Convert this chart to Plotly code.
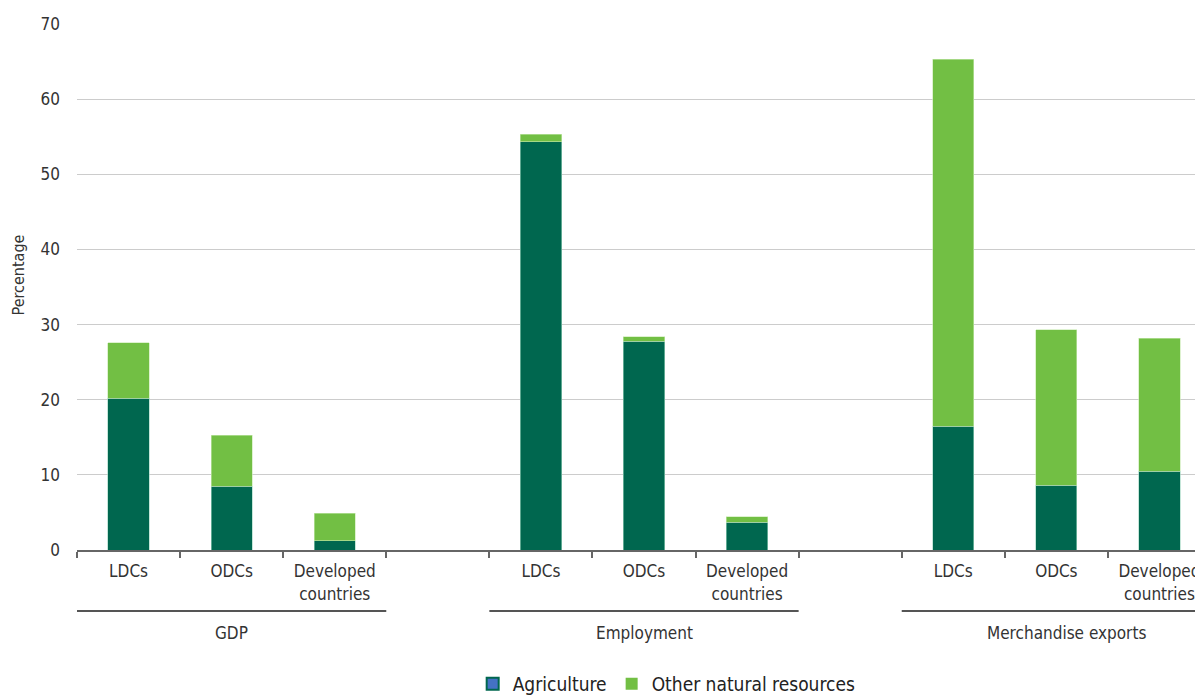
import plotly.graph_objects as go

groups = ["GDP", "Employment", "Merchandise exports"]
country_groups = ["LDCs", "ODCs", "Developed<br>countries"]
# slot positions (one empty slot between groups)
positions = [0, 1, 2, 4, 5, 6, 8, 9, 10]
agriculture = [20.2, 8.5, 1.2, 54.3, 27.8, 3.7, 16.5, 8.6, 10.5]
other_nat = [7.4, 6.8, 3.7, 1.0, 0.6, 0.7, 48.8, 20.7, 17.7]
y_ticks = [0, 10, 20, 30, 40, 50, 60, 70]

DARK = "#00674F"
LIGHT = "#72BF44"
FONT = "DejaVu Sans Condensed, Roboto, sans-serif"

fig = go.Figure()
fig.add_trace(go.Bar(x=positions, y=agriculture, name="Agriculture", width=0.4,
                     marker=dict(color=DARK, line=dict(color="#9fd5c0", width=0.6)),
                     showlegend=False))
fig.add_trace(go.Bar(x=positions, y=other_nat, name="Other natural resources", width=0.4,
                     marker=dict(color=LIGHT, line=dict(color="#c8eab0", width=0.6)),
                     showlegend=False))
# legend entries
fig.add_trace(go.Bar(x=[None], y=[None], name="Agriculture",
                     marker=dict(color="#4472C4", line=dict(color=DARK, width=2))))
fig.add_trace(go.Bar(x=[None], y=[None], name="Other natural resources",
                     marker=dict(color=LIGHT, line=dict(color=LIGHT, width=0))))

tickvals = positions
ticktext = country_groups * 3
boundaries = [p - 0.5 for p in range(12)]

# page body has an 8px margin, so the figure is offset to compensate;
# the right part of the plot runs past the window edge as in the reference
fig.update_layout(
    barmode="stack",
    width=1203, height=695,
    margin=dict(l=69, r=0, t=16, b=152),
    plot_bgcolor="white", paper_bgcolor="white",
    font=dict(family=FONT, size=17, color="#333333"),
    legend=dict(orientation="h", x=0.52, xanchor="center", y=-0.254, yanchor="middle",
                font=dict(size=19, color="#222222"), itemwidth=30, traceorder="normal"),
    xaxis=dict(range=[-0.5, 10.5], tickmode="array", tickvals=tickvals, ticktext=ticktext,
               ticks="", showgrid=False, zeroline=False, automargin=False,
               showline=True, linecolor="#666666", linewidth=2, ticklabelstandoff=5,
               tickfont=dict(size=17, color="#333333"),
               minor=dict(tickmode="array", tickvals=boundaries, ticks="outside",
                          ticklen=6, tickwidth=2, tickcolor="#666666", showgrid=False)),
    yaxis=dict(range=[0, 70], tickvals=y_ticks, showgrid=True, gridcolor="#cccccc",
               gridwidth=1, zeroline=False, showline=False, ticks="", automargin=False,
               ticklabelstandoff=16,
               tickfont=dict(size=17, color="#333333")),
)

fig.add_annotation(xref="paper", yref="paper", x=-0.052, y=0.522, text="Percentage",
                   textangle=-90, showarrow=False, xanchor="center", yanchor="middle",
                   font=dict(size=16, color="#333333"))

# group separators and labels
group_spans = [(-0.5, 2.5), (3.5, 6.5), (7.5, 11.0)]
label_x = [1.0, 5.0, 9.1]
for (x0, x1), lx, g in zip(group_spans, label_x, groups):
    fig.add_shape(type="line", xref="x", yref="paper", x0=x0, x1=x1, y0=-0.116, y1=-0.116,
                  line=dict(color="#555555", width=2))
    fig.add_annotation(xref="x", yref="paper", x=lx, y=-0.158, text=g, showarrow=False,
                       yanchor="middle", font=dict(size=17, color="#333333"))

fig.write_html("out.html")
